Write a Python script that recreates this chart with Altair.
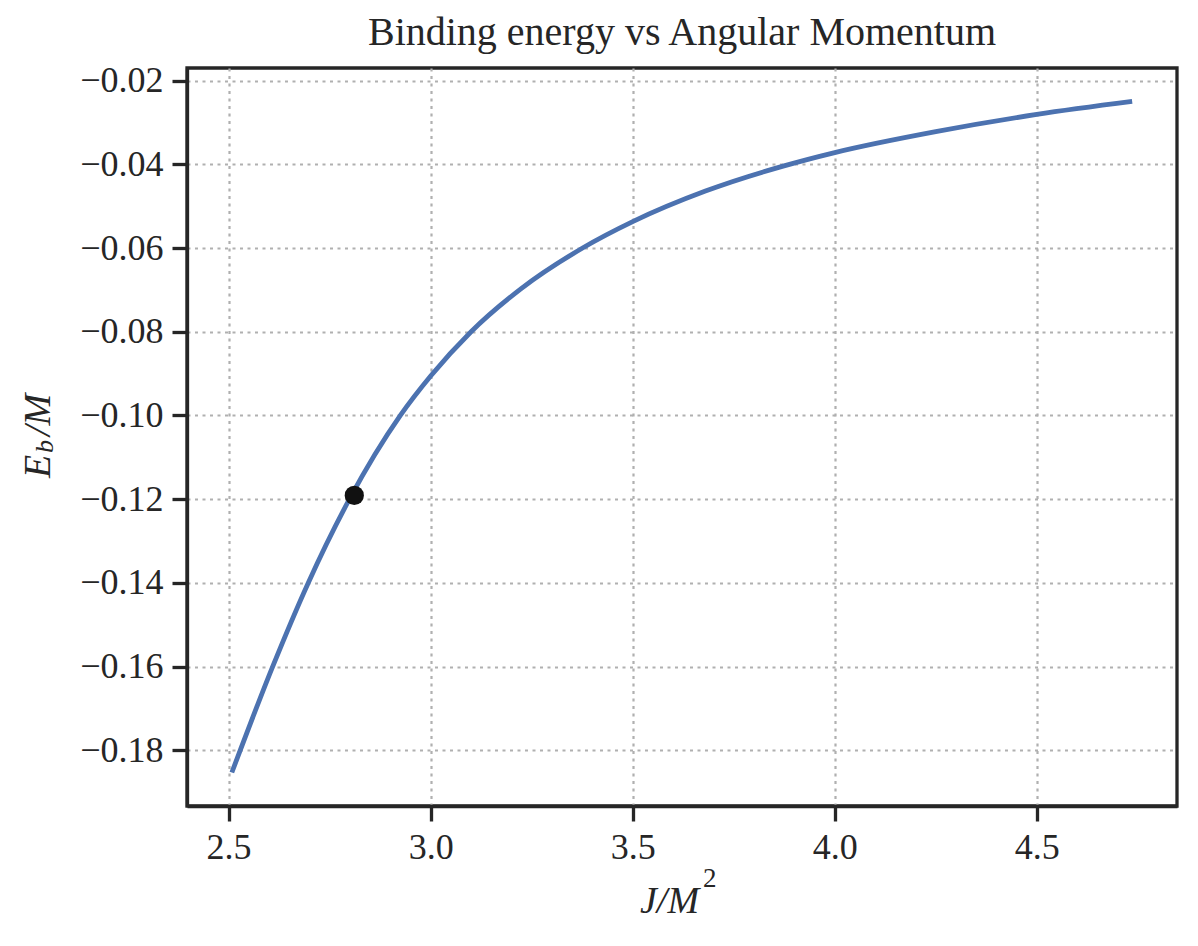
import altair as alt
import pandas as pd

# Curve values
J_values = [2.508, 2.609, 2.697, 2.799, 2.925, 3.000, 3.100, 3.224, 3.376,
            3.500, 3.680, 3.870, 4.000, 4.250, 4.500, 4.736]
Eb_values = [-0.1853, -0.1600, -0.1400, -0.1200, -0.1000, -0.0906, -0.0800,
             -0.0697, -0.0600, -0.0537, -0.0464, -0.0405, -0.0372, -0.0322,
             -0.0281, -0.0250]

# Highlighted point
point_J = [2.811]
point_Eb = [-0.1191]

x_ticks = [2.5, 3.0, 3.5, 4.0, 4.5]
y_ticks = [-0.18, -0.16, -0.14, -0.12, -0.10, -0.08, -0.06, -0.04, -0.02]

title_text = "Binding energy vs Angular Momentum"

FONT = "Liberation Serif"
INK = "#262626"

curve = pd.DataFrame({"J": J_values, "Eb": Eb_values})
pt = pd.DataFrame({"J": point_J, "Eb": point_Eb})

xscale = alt.Scale(domain=[2.397, 4.847], nice=False, zero=False)
yscale = alt.Scale(domain=[-0.1933, -0.0170], nice=False, zero=False)

xenc = alt.X("J:Q", scale=xscale,
             axis=alt.Axis(values=x_ticks, format=".1f", title=None, labelFlush=False))
yenc = alt.Y("Eb:Q", scale=yscale,
             axis=alt.Axis(values=y_ticks, format=".2f", title=None, labelOverlap=False))

line = alt.Chart(curve).mark_line(color="#4c72b0", strokeWidth=4.8,
                                  interpolate="monotone").encode(x=xenc, y=yenc)
dot = alt.Chart(pt).mark_point(filled=True, color="#111111", size=370,
                               opacity=1).encode(x="J:Q", y="Eb:Q")


def label(text, x, y, size, angle=0, style="italic"):
    df = pd.DataFrame({"t": [text]})
    kw = dict(font=FONT, fontSize=size, fontStyle=style, color=INK,
              align="left", baseline="alphabetic")
    if angle:
        kw["angle"] = angle
    return alt.Chart(df).mark_text(**kw).encode(
        text="t:N", x=alt.value(x), y=alt.value(y))


ylab_E = label("E", -137, 410, 38, angle=270)
ylab_b = label("b", -134, 385, 26, angle=270)
ylab_M = label("/M", -137, 368, 38, angle=270)
xlab_JM = label("J/M", 453, 845, 38)
xlab_2 = label("2", 516, 819, 27, style="normal")

chart = alt.layer(line, dot, ylab_E, ylab_b, ylab_M, xlab_JM, xlab_2).properties(
    width=990,
    height=738,
    background="white",
    title=alt.TitleParams(title_text, font=FONT, fontSize=40, fontWeight="normal",
                          color=INK, anchor="middle", offset=10),
    autosize=alt.AutoSizeParams(type="none"),
    padding={"left": 179, "top": 60, "right": 13, "bottom": 132},
).configure_view(
    stroke=INK, strokeWidth=3.3
).configure_axis(
    domainColor=INK, domainWidth=3.3,
    tickColor=INK, tickWidth=3.3, tickSize=15,
    labelFont=FONT, labelFontSize=36, labelColor=INK, labelPadding=9,
    grid=True, gridColor="#b0b0b0", gridWidth=2.2, gridDash=[3, 4.5],
)

chart.save("out.html", embed_options={"renderer": "svg", "actions": False})
